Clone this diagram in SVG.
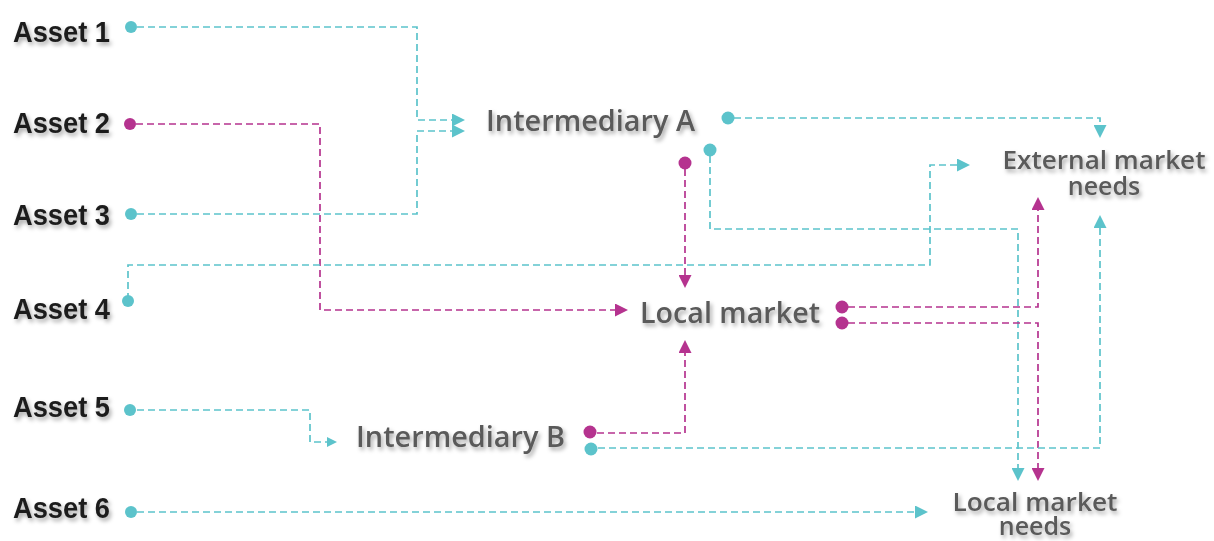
<svg xmlns="http://www.w3.org/2000/svg" width="1214" height="541" viewBox="0 0 1214 541">
<defs>
<style>
.asset{font-family:"Liberation Sans",Arial,sans-serif;font-weight:700;font-size:30px;fill:#1c1c1c;filter:url(#sh)}
.node{font-family:"Open Sans","Liberation Sans",sans-serif;font-weight:600;fill:#5a5a5a;filter:url(#sh)}
.c{fill:none;stroke:#5cc3cb;stroke-width:1.7;stroke-dasharray:7 4}
.m{fill:none;stroke:#b5338f;stroke-width:1.7;stroke-dasharray:7 4}
.dc{fill:#5cc3cb}
.dm{fill:#b5338f}
</style>
<filter id="sh" x="-10%" y="-30%" width="130%" height="180%">
<feDropShadow dx="2" dy="3" stdDeviation="2" flood-color="#000" flood-opacity="0.35"/>
</filter>
<marker id="ac" viewBox="0 0 10 10" refX="0" refY="5" markerWidth="13" markerHeight="13" markerUnits="userSpaceOnUse" orient="auto">
<path d="M0,0 L10,5 L0,10 z" fill="#5cc3cb"/>
</marker>
<marker id="am" viewBox="0 0 10 10" refX="0" refY="5" markerWidth="13" markerHeight="13" markerUnits="userSpaceOnUse" orient="auto">
<path d="M0,0 L10,5 L0,10 z" fill="#b5338f"/>
</marker>
<marker id="acs" viewBox="0 0 10 10" refX="0" refY="5" markerWidth="10" markerHeight="10" markerUnits="userSpaceOnUse" orient="auto">
<path d="M0,0 L10,5 L0,10 z" fill="#5cc3cb"/>
</marker>
</defs>
<rect width="1214" height="541" fill="#ffffff"/>

<g id="connectors">
<path class="c" d="M137 27 H417 V120 H452" marker-end="url(#ac)"/>
<path class="c" d="M137 214 H417 V131 H452" marker-end="url(#ac)"/>
<path class="m" d="M136 124 H320 V310 H615" marker-end="url(#am)"/>
<path class="c" d="M128 300 V265 H930 V165 H957" marker-end="url(#ac)"/>
<path class="c" d="M137 410 H310 V442 H327" marker-end="url(#acs)"/>
<path class="c" d="M137 512 H915" marker-end="url(#ac)"/>
<path class="c" d="M734 118 H1100 V125" marker-end="url(#ac)"/>
<path class="m" d="M685 169 V275" marker-end="url(#am)"/>
<path class="c" d="M710 156 V229 H1018 V468" marker-end="url(#ac)"/>
<path class="m" d="M848 307 H1038 V210" marker-end="url(#am)"/>
<path class="m" d="M848 323 H1038 V468" marker-end="url(#am)"/>
<path class="m" d="M597 433 H685 V353" marker-end="url(#am)"/>
<path class="c" d="M598 448 H1100 V228" marker-end="url(#ac)"/>
</g>

<g id="asset1"><text class="asset" x="13" y="42" textLength="97" lengthAdjust="spacingAndGlyphs">Asset 1</text><circle class="dc" cx="131" cy="27" r="6"/></g>
<g id="asset2"><text class="asset" x="13" y="133" textLength="97" lengthAdjust="spacingAndGlyphs">Asset 2</text><circle class="dm" cx="130" cy="124" r="6"/></g>
<g id="asset3"><text class="asset" x="13" y="225" textLength="97" lengthAdjust="spacingAndGlyphs">Asset 3</text><circle class="dc" cx="131" cy="214" r="6"/></g>
<g id="asset4"><text class="asset" x="13" y="319" textLength="97" lengthAdjust="spacingAndGlyphs">Asset 4</text><circle class="dc" cx="128" cy="301" r="6"/></g>
<g id="asset5"><text class="asset" x="13" y="417" textLength="97" lengthAdjust="spacingAndGlyphs">Asset 5</text><circle class="dc" cx="130" cy="410" r="6"/></g>
<g id="asset6"><text class="asset" x="13" y="518" textLength="97" lengthAdjust="spacingAndGlyphs">Asset 6</text><circle class="dc" cx="131" cy="512" r="6"/></g>

<g id="intermediaryA">
<text class="node" x="486" y="131" font-size="28" textLength="209" lengthAdjust="spacingAndGlyphs">Intermediary A</text>
<circle class="dc" cx="728" cy="118" r="6.5"/>
<circle class="dc" cx="710" cy="150" r="6.5"/>
<circle class="dm" cx="685" cy="163" r="6.5"/>
</g>

<g id="localMarket">
<text class="node" x="640" y="323" font-size="29" textLength="180" lengthAdjust="spacingAndGlyphs">Local market</text>
<circle class="dm" cx="842" cy="307" r="6.5"/>
<circle class="dm" cx="842" cy="323" r="6.5"/>
</g>

<g id="intermediaryB">
<text class="node" x="356" y="447" font-size="28" textLength="209" lengthAdjust="spacingAndGlyphs">Intermediary B</text>
<circle class="dm" cx="590" cy="432" r="6.5"/>
<circle class="dc" cx="591" cy="449" r="6.5"/>
</g>

<g id="externalMarketNeeds">
<text class="node" font-size="25" text-anchor="middle"><tspan x="1104" y="169" textLength="203" lengthAdjust="spacingAndGlyphs">External market</tspan><tspan x="1104" y="195">needs</tspan></text>
</g>

<g id="localMarketNeeds">
<text class="node" font-size="25" text-anchor="middle"><tspan x="1035" y="511" textLength="165" lengthAdjust="spacingAndGlyphs">Local market</tspan><tspan x="1035" y="535">needs</tspan></text>
</g>
</svg>
